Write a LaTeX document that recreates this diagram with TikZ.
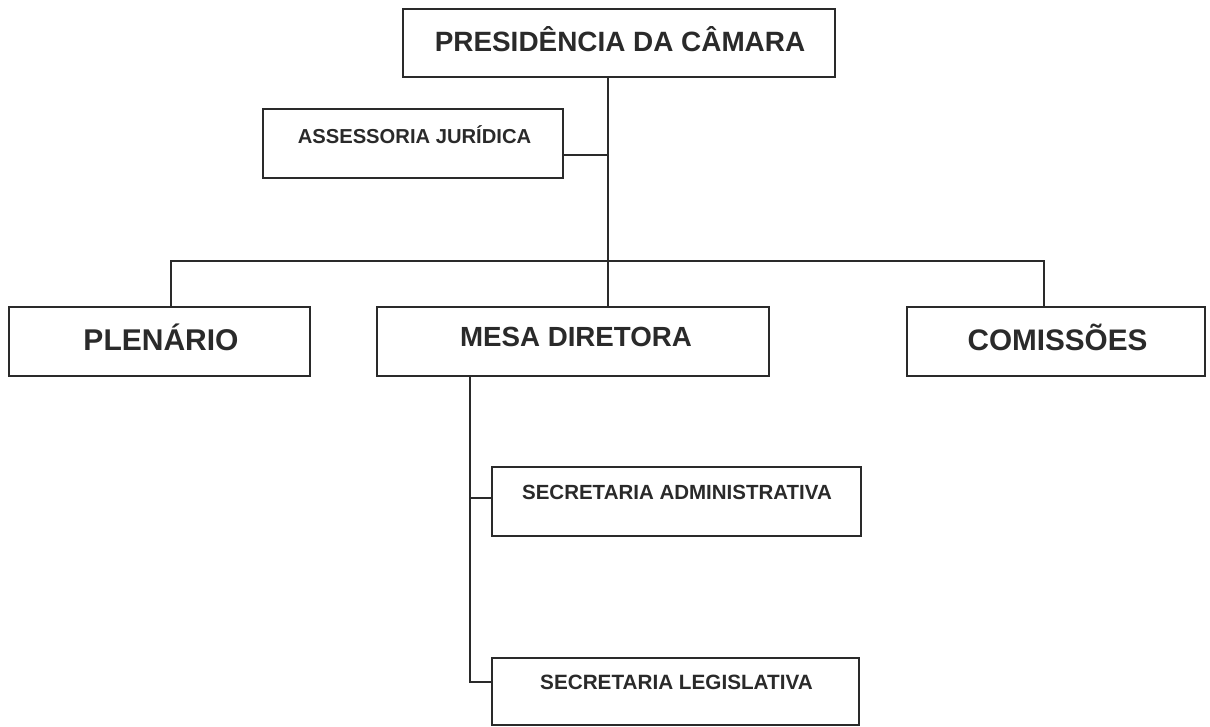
\documentclass[tikz,border=0pt]{standalone}
\usepackage{fontspec}
\setmainfont{Liberation Sans}
\definecolor{ink}{HTML}{2A2A2A}
\begin{document}
\begin{tikzpicture}[x=1pt,y=-1pt,
  box/.style={draw=ink, line width=1.5pt, rectangle, inner sep=0pt},
  lbl/.style={text=ink, inner sep=0pt},
  conn/.style={draw=ink, line width=1.5pt}]
\useasboundingbox (0,0) rectangle (1210,726);
% boxes
\node[box, minimum width=432, minimum height=68] (pres) at (619,43) {};
\node[box, minimum width=300, minimum height=69] (ass) at (413,143.5) {};
\node[box, minimum width=301, minimum height=69] (plen) at (159.5,341.5) {};
\node[box, minimum width=392, minimum height=69] (mesa) at (573,341.5) {};
\node[box, minimum width=298, minimum height=69] (com) at (1056,341.5) {};
\node[box, minimum width=369, minimum height=69] (adm) at (676.5,501.5) {};
\node[box, minimum width=367, minimum height=67] (leg) at (675.5,691.5) {};
% texts
\node[lbl, font=\fontsize{27.9}{32}\selectfont\bfseries] (presT) at (620,39) {PRESIDÊNCIA DA CÂMARA};
\node[lbl, font=\fontsize{20.2}{22}\selectfont\bfseries] (assT) at (414.5,135) {ASSESSORIA JURÍDICA};
\node[lbl, font=\fontsize{30}{32}\selectfont\bfseries] (plenT) at (161,337) {PLENÁRIO};
\node[lbl, font=\fontsize{27.7}{32}\selectfont\bfseries] (mesaT) at (576,337) {MESA DIRETORA};
\node[lbl, font=\fontsize{29.7}{32}\selectfont\bfseries] (comT) at (1057.5,337) {COMISSÕES};
\node[lbl, font=\fontsize{20.5}{22}\selectfont\bfseries] (admT) at (677,492) {SECRETARIA ADMINISTRATIVA};
\node[lbl, font=\fontsize{20.7}{22}\selectfont\bfseries] (legT) at (676.5,682) {SECRETARIA LEGISLATIVA};
% junctions
\coordinate (trunk) at (608,261);
\coordinate (ajoin) at (608,155);
\coordinate (lj) at (171,261);
\coordinate (rj) at (1044,261);
\coordinate (sj) at (470,682);
\coordinate (aj) at (470,498);
% connectors
\draw[conn] (trunk |- pres.south) -- (trunk);
\draw[conn] (ajoin -| ass.east) -- (ajoin);
\draw[conn] (lj |- plen.north) -- (lj) -- (rj) -- (rj |- com.north);
\draw[conn] (trunk) -- (trunk |- mesa.north);
\draw[conn] (sj |- mesa.south) -- (sj) -- (sj -| leg.west);
\draw[conn] (aj) -- (aj -| adm.west);
\end{tikzpicture}
\end{document}
